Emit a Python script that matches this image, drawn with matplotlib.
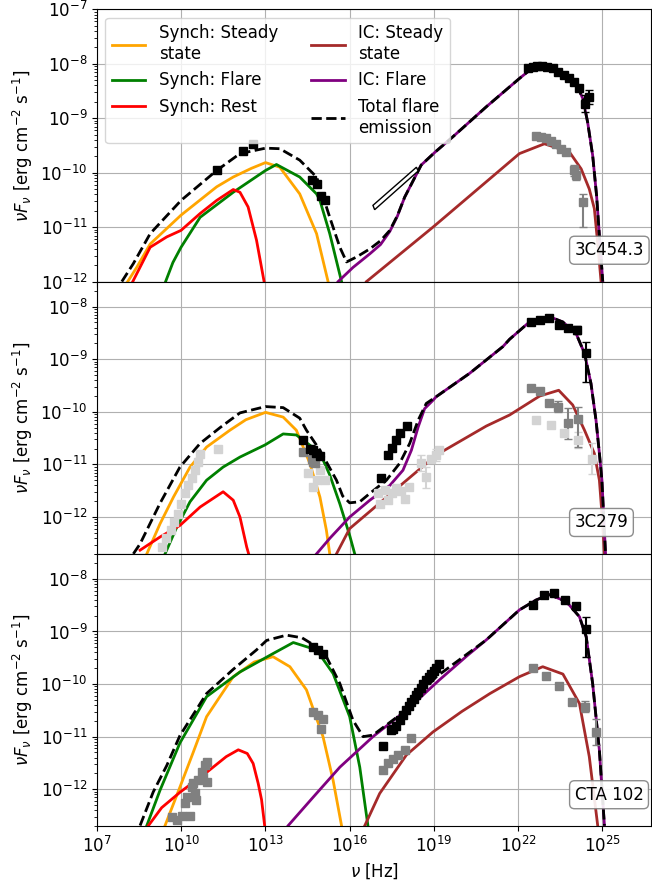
import numpy as np
import matplotlib
matplotlib.use("Agg")
import matplotlib.pyplot as plt
from matplotlib.ticker import NullLocator, NullFormatter

# values, stored as log10(nu / Hz) and log10(nuFnu / erg cm^-2 s^-1)

# ---------------- 3C454.3 ----------------
a_syn_ss_x = [8.09, 8.41, 8.89, 9.99, 11.26, 11.85, 12.5, 13.0, 13.51, 14.22, 14.82, 15.23]
a_syn_ss_y = [-12.0, -11.74, -11.31, -10.78, -10.26, -10.08, -9.92, -9.815, -9.9, -10.39, -11.12, -12.0]
a_syn_fl_x = [9.44, 9.7, 9.99, 10.67, 11.85, 13.0, 13.39, 14.22, 14.82, 14.94, 15.29, 15.71]
a_syn_fl_y = [-12.0, -11.65, -11.37, -10.82, -10.36, -9.96, -9.85, -10.08, -10.39, -10.51, -11.12, -12.0]
a_syn_re_x = [8.27, 8.89, 9.48, 9.99, 10.67, 11.26, 11.85, 12.09, 12.38, 12.68, 12.95]
a_syn_re_y = [-12.0, -11.37, -11.18, -11.06, -10.75, -10.51, -10.31, -10.36, -10.63, -11.24, -12.0]
a_ic_ss_x = [16.6, 18.97, 22.05, 22.94, 23.83, 24.25, 24.54, 24.72, 24.84, 24.96]
a_ic_ss_y = [-12.0, -11.0, -9.65, -9.47, -9.62, -9.93, -10.30, -10.66, -11.3, -12.0]
a_ic_fl_x = [15.59, 16.12, 16.72, 17.1, 17.43, 17.7, 17.96, 18.55, 19.05, 19.68, 20.87, 22.05, 22.41, 23.0,
             23.59, 24.07, 24.31, 24.48, 24.66, 24.80, 24.90, 25.02]
a_ic_fl_y = [-12.0, -11.74, -11.49, -11.32, -11.08, -10.8, -10.45, -9.86, -9.62, -9.34, -8.79, -8.27, -8.12,
             -8.07, -8.18, -8.36, -8.64, -9.07, -9.68, -10.42, -11.15, -12.0]
a_tot_x = [7.88, 8.29, 8.89, 9.99, 11.26, 12.09, 13.0, 13.51, 14.22, 14.82, 14.94, 15.29, 15.65, 15.89,
           16.24, 16.72, 17.1, 17.43, 17.7, 17.96, 18.55, 19.05, 19.68, 20.87, 22.05, 22.41, 23.0, 23.59,
           24.07, 24.31, 24.48, 24.66, 24.80, 24.90, 25.02]
a_tot_y = [-12.0, -11.67, -11.12, -10.51, -9.96, -9.65, -9.55, -9.56, -9.77, -10.08, -10.26, -10.82,
           -11.37, -11.64, -11.55, -11.40, -11.25, -11.06, -10.79, -10.45, -9.86, -9.62, -9.34, -8.79,
           -8.27, -8.12, -8.07, -8.18, -8.36, -8.64, -9.07, -9.68, -10.42, -11.15, -12.0]
a_fl_x = [11.28, 12.21, 12.56, 14.64, 14.84, 14.99, 15.11, 22.34, 22.52, 22.69, 22.87, 23.05, 23.23,
          23.41, 23.65, 23.83, 24.01, 24.16, 24.37, 24.52]
a_fl_y = [-9.95, -9.60, -9.48, -10.14, -10.21, -10.42, -10.51, -8.08, -8.06, -8.05, -8.05, -8.06, -8.08,
          -8.15, -8.21, -8.26, -8.33, -8.45, -8.73, -8.61]
a_fl_elo = [0] * 18 + [0.15, 0.13]
a_fl_ehi = [0] * 18 + [0.15, 0.13]
a_ss_x = [22.65, 22.82, 23.0, 23.18, 23.36, 23.54, 23.72, 23.99, 24.07, 24.33]
a_ss_y = [-9.33, -9.34, -9.37, -9.42, -9.48, -9.56, -9.62, -9.96, -10.04, -10.54]
a_ss_elo = [0, 0, 0, 0, 0, 0, 0, 0.1, 0.1, 0.45]
a_ss_ehi = [0, 0, 0, 0, 0, 0, 0, 0.1, 0.1, 0.15]
bowtie_x = [16.83, 18.38, 18.44, 16.89]
bowtie_y = [-10.60, -9.90, -9.97, -10.68]

# ---------------- 3C279 ----------------
b_syn_ss_x = [8.77, 9.24, 9.72, 10.31, 10.90, 11.73, 12.3, 13.0, 13.63, 14.10, 14.58, 14.94, 15.17, 15.29]
b_syn_ss_y = [-12.70, -12.13, -11.62, -11.05, -10.67, -10.35, -10.15, -10.01, -10.10, -10.35, -10.98,
              -11.62, -12.25, -12.70]
b_syn_fl_x = [9.42, 9.84, 10.31, 10.90, 11.49, 12.09, 12.98, 13.63, 14.10, 14.82, 14.94, 15.29, 15.65,
              16.0, 16.18]
b_syn_fl_y = [-12.70, -12.19, -11.71, -11.30, -11.05, -10.86, -10.63, -10.42, -10.44, -10.73, -10.78,
              -11.2, -11.75, -12.35, -12.70]
b_syn_re_x = [8.53, 9.24, 9.95, 10.67, 11.49, 11.85, 12.09, 12.33, 12.40]
b_syn_re_y = [-12.63, -12.38, -12.16, -11.81, -11.52, -11.68, -12.0, -12.57, -12.70]
b_ic_ss_x = [15.53, 16.0, 17.19, 19.09, 20.87, 21.70, 22.77, 23.45, 23.95, 24.37, 24.72, 24.90, 25.0, 25.08]
b_ic_ss_y = [-12.70, -12.22, -11.68, -10.82, -10.27, -10.06, -9.70, -9.59, -9.87, -10.35, -10.79, -11.30,
             -12.0, -12.70]
b_ic_fl_x = [14.82, 15.3, 16.0, 16.72, 17.43, 17.9, 18.20, 18.44, 18.67, 18.97, 19.09, 20.27, 21.46, 21.70,
             22.41, 23.12, 23.59, 24.07, 24.37, 24.60, 24.78, 24.90, 24.99, 25.12]
b_ic_fl_y = [-12.70, -12.4, -12.0, -11.68, -11.40, -11.11, -10.73, -10.29, -9.94, -9.78, -9.71, -9.27,
             -8.76, -8.62, -8.29, -8.19, -8.29, -8.51, -8.89, -9.46, -10.16, -10.79, -11.30, -12.70]
b_tot_x = [8.29, 8.53, 9.24, 9.95, 10.67, 11.38, 12.09, 13.0, 13.63, 14.22, 14.46, 14.94, 15.53, 15.75,
           16.0, 16.36, 16.72, 17.31, 17.78, 18.14, 18.44, 18.73, 19.09, 20.27, 21.46, 21.70, 22.41, 23.12,
           23.59, 24.07, 24.37, 24.60, 24.78, 24.90, 24.99, 25.12]
b_tot_y = [-12.70, -12.51, -11.74, -11.05, -10.60, -10.30, -10.02, -9.90, -9.92, -10.12, -10.35, -10.73,
           -11.30, -11.6, -11.73, -11.71, -11.55, -11.30, -10.98, -10.60, -10.16, -9.84, -9.71, -9.27,
           -8.76, -8.62, -8.29, -8.19, -8.29, -8.51, -8.89, -9.46, -10.16, -10.79, -11.30, -12.70]
b_fl_x = [14.34, 14.58, 14.70, 14.80, 14.94, 17.13, 17.37, 17.52, 17.64, 17.81, 18.04, 22.47, 22.77,
          23.10, 23.45, 23.77, 24.11, 24.43]
b_fl_y = [-10.54, -10.70, -10.72, -10.78, -10.84, -11.25, -10.82, -10.68, -10.53, -10.41, -10.27, -8.30,
          -8.25, -8.22, -8.35, -8.41, -8.44, -8.89]
b_fl_elo = [0] * 16 + [0.08, 0.54]
b_fl_ehi = [0] * 16 + [0.08, 0.22]
b_ss_x = [14.34, 14.64, 14.70, 14.76, 22.47, 22.77, 23.10, 23.44, 23.77, 24.13]
b_ss_y = [-10.76, -10.89, -10.95, -10.98, -9.55, -9.61, -9.83, -9.90, -10.22, -10.13]
b_ss_elo = [0, 0, 0, 0, 0, 0, 0, 0.1, 0.3, 0.54]
b_ss_ehi = [0, 0, 0, 0, 0, 0, 0, 0.1, 0.3, 0.23]
b_arch_x = [9.30, 9.45, 9.62, 9.75, 9.88, 10.0, 10.12, 10.25, 10.38, 10.5, 10.6, 10.68, 11.32,
            14.52, 14.70, 14.82, 14.94, 15.11,
            17.01, 17.07, 17.25, 17.37, 17.52, 17.66, 17.84, 17.96, 18.11, 18.55, 18.73, 18.91, 19.06, 19.18,
            22.65, 23.16, 23.65, 24.13, 24.64]
b_arch_y = [-12.57, -12.40, -12.25, -12.10, -11.95, -11.75, -11.55, -11.40, -11.25, -11.10, -10.95, -10.80,
            -10.70, -11.17, -11.43, -11.30, -11.11, -11.30,
            -11.55, -11.76, -11.48, -11.68, -11.55, -11.44, -11.50, -11.65, -11.42, -10.98, -11.24, -10.89,
            -10.82, -10.73, -10.16, -10.25, -10.41, -10.54, -10.89]
b_arch_err = [0] * 27 + [0.15, 0.2, 0, 0.12, 0, 0, 0, 0, 0.15, 0.3]

# ---------------- CTA 102 ----------------
c_syn_ss_x = [9.42, 9.95, 10.43, 10.9, 11.85, 12.6, 13.27, 13.87, 14.46, 15.05, 15.41, 15.71]
c_syn_ss_y = [-12.69, -11.96, -11.29, -10.62, -9.86, -9.58, -9.48, -9.67, -10.11, -11.0, -11.83, -12.69]
c_syn_fl_x = [8.77, 9.24, 9.95, 10.9, 12.09, 13.27, 13.99, 14.82, 15.41, 16.0, 16.36, 16.65]
c_syn_fl_y = [-12.69, -12.02, -11.12, -10.24, -9.77, -9.42, -9.21, -9.35, -9.80, -10.62, -11.58, -12.69]
c_syn_re_x = [8.83, 9.3, 9.97, 10.9, 11.6, 12.03, 12.35, 12.56, 12.74, 12.86, 12.97]
c_syn_re_y = [-12.69, -12.35, -12.05, -11.68, -11.38, -11.25, -11.32, -11.51, -11.89, -12.2, -12.69]
c_ic_ss_x = [16.54, 17.07, 18.02, 18.97, 20.0, 21.0, 22.05, 22.88, 23.6, 24.19, 24.54, 24.84]
c_ic_ss_y = [-12.69, -12.08, -11.35, -10.91, -10.52, -10.18, -9.86, -9.67, -9.81, -10.37, -11.38, -12.69]
c_ic_fl_x = [13.81, 14.70, 15.65, 16.83, 18.02, 19.2, 20.21, 20.87, 22.05, 22.65, 23.12, 23.72, 24.19,
             24.43, 24.66, 24.90, 25.08]
c_ic_fl_y = [-12.69, -12.15, -11.58, -11.0, -10.50, -9.92, -9.45, -9.16, -8.59, -8.40, -8.30, -8.43, -8.72,
             -9.10, -9.99, -11.26, -12.69]
c_tot_x = [8.53, 9.0, 9.48, 9.95, 10.9, 11.85, 12.68, 13.04, 13.75, 14.3, 14.82, 15.17, 15.65, 16.12,
           16.48, 16.83, 17.78, 19.09, 20.87, 22.05, 22.65, 23.12, 23.72, 24.19, 24.43, 24.66, 24.90, 25.08]
c_tot_y = [-12.69, -12.05, -11.55, -10.98, -10.18, -9.72, -9.35, -9.17, -9.07, -9.12, -9.29, -9.48, -9.99,
           -10.69, -11.0, -10.97, -10.59, -9.86, -9.16, -8.59, -8.40, -8.30, -8.43, -8.72, -9.10, -9.99,
           -11.26, -12.69]
c_fl_x = [14.70, 14.88, 15.05, 17.19, 17.49, 17.55, 17.66, 17.78, 17.90, 18.02, 18.1, 18.20, 18.3, 18.37,
          18.45, 18.55, 18.63, 18.73, 18.82, 18.91, 19.0, 19.09, 19.20, 22.53, 22.91, 23.30, 23.69, 24.05,
          24.43]
c_fl_y = [-9.29, -9.36, -9.42, -11.18, -10.88, -10.85, -10.79, -10.69, -10.59, -10.50, -10.42, -10.34,
          -10.28, -10.21, -10.15, -10.08, -10.0, -9.92, -9.86, -9.80, -9.75, -9.70, -9.62, -8.50, -8.30,
          -8.26, -8.40, -8.51, -8.96]
c_fl_elo = [0] * 27 + [0.05, 0.52]
c_fl_ehi = [0] * 27 + [0.05, 0.24]
c_ss_x = [9.66, 9.84, 10.01, 10.31, 10.13, 10.19, 10.37, 10.54, 10.49, 10.61, 10.73, 10.84, 10.90, 10.90,
          10.78, 10.43, 14.70, 14.88, 15.05, 14.99, 17.19, 17.37, 17.54, 17.72, 17.96, 18.20, 22.53, 23.0,
          23.45, 23.93, 24.37, 24.78]
c_ss_y = [-12.53, -12.59, -12.50, -12.50, -12.27, -12.15, -11.96, -12.21, -12.08, -11.83, -11.67, -11.54,
          -11.48, -11.86, -11.76, -11.89, -10.53, -10.59, -10.67, -10.86, -11.64, -11.51, -11.42, -11.35,
          -11.26, -11.03, -9.70, -9.85, -10.04, -10.34, -10.43, -10.91]
c_ss_err = [0] * 30 + [0.1, 0.25]

names = ["3C454.3", "3C279", "CTA 102"]


def curve(ax, lx, ly, **kw):
    ax.plot(10 ** np.asarray(lx), 10 ** np.asarray(ly), **kw)


def points(ax, lx, ly, color, elo=None, ehi=None):
    lx = np.asarray(lx)
    ly = np.asarray(ly)
    x = 10 ** lx
    y = 10 ** ly
    if elo is not None:
        elo = np.asarray(elo, dtype=float)
        ehi = np.asarray(ehi if ehi is not None else elo, dtype=float)
        m = (elo > 0) | (ehi > 0)
        lo = y[m] - 10 ** (ly[m] - elo[m])
        hi = 10 ** (ly[m] + ehi[m]) - y[m]
        ax.errorbar(x[m], y[m], yerr=[lo, hi], fmt="none", ecolor=color, capsize=3, lw=1.5, zorder=3)
    ax.plot(x, y, "s", color=color, ms=6, ls="none", zorder=4)


def draw_models(ax, ss, fl, re, ic_ss, ic_fl, tot):
    curve(ax, *ss, color="orange", lw=2, label="Synch: Steady\nstate")
    curve(ax, *fl, color="green", lw=2, label="Synch: Flare")
    curve(ax, *re, color="red", lw=2, label="Synch: Rest")
    curve(ax, *ic_ss, color="brown", lw=2, label="IC: Steady\nstate")
    curve(ax, *ic_fl, color="purple", lw=2, label="IC: Flare")
    curve(ax, *tot, color="black", lw=2, ls="--", label="Total flare\nemission")


fig = plt.figure(figsize=(6.52, 8.88), dpi=100)
axes = fig.subplots(3, 1, sharex=True)
fig.subplots_adjust(left=0.149, right=0.9985, top=0.9895, bottom=0.0698, hspace=0)

ax = axes[0]
draw_models(ax, (a_syn_ss_x, a_syn_ss_y), (a_syn_fl_x, a_syn_fl_y), (a_syn_re_x, a_syn_re_y),
            (a_ic_ss_x, a_ic_ss_y), (a_ic_fl_x, a_ic_fl_y), (a_tot_x, a_tot_y))
ax.fill(10 ** np.asarray(bowtie_x), 10 ** np.asarray(bowtie_y), facecolor="white", edgecolor="black",
        lw=1, zorder=3)
points(ax, a_ss_x, a_ss_y, "gray", a_ss_elo, a_ss_ehi)
points(ax, a_fl_x, a_fl_y, "black", a_fl_elo, a_fl_ehi)
ax.set_ylim(1e-12, 1e-7)
ax.legend(ncol=2, loc="upper left", fontsize=12)

ax = axes[1]
draw_models(ax, (b_syn_ss_x, b_syn_ss_y), (b_syn_fl_x, b_syn_fl_y), (b_syn_re_x, b_syn_re_y),
            (b_ic_ss_x, b_ic_ss_y), (b_ic_fl_x, b_ic_fl_y), (b_tot_x, b_tot_y))
points(ax, b_arch_x, b_arch_y, "lightgray", b_arch_err)
points(ax, b_ss_x, b_ss_y, "gray", b_ss_elo, b_ss_ehi)
points(ax, b_fl_x, b_fl_y, "black", b_fl_elo, b_fl_ehi)
ax.set_ylim(2e-13, 3e-8)

ax = axes[2]
draw_models(ax, (c_syn_ss_x, c_syn_ss_y), (c_syn_fl_x, c_syn_fl_y), (c_syn_re_x, c_syn_re_y),
            (c_ic_ss_x, c_ic_ss_y), (c_ic_fl_x, c_ic_fl_y), (c_tot_x, c_tot_y))
points(ax, c_ss_x, c_ss_y, "gray", c_ss_err)
points(ax, c_fl_x, c_fl_y, "black", c_fl_elo, c_fl_ehi)
ax.set_ylim(2e-13, 3e-8)
ax.set_xlabel(r"$\nu$ [Hz]", fontsize=12)

for ax, name in zip(axes, names):
    ax.set_xscale("log")
    ax.set_yscale("log")
    ax.set_xlim(1e7, 5.5e26)
    ax.set_xticks([10.0 ** k for k in range(7, 26, 3)])
    ax.xaxis.set_minor_locator(NullLocator())
    ax.yaxis.set_minor_formatter(NullFormatter())
    ax.grid(True, which="major")
    ax.tick_params(labelsize=12)
    ax.set_ylabel(r"$\nu F_\nu$ [erg cm$^{-2}$ s$^{-1}$]", fontsize=12)
    ax.text(0.862, 0.115, name, transform=ax.transAxes, fontsize=12, ha="left", va="center",
            bbox=dict(boxstyle="round", facecolor="white", edgecolor="gray", alpha=0.9), zorder=5)

fig.savefig("out.png", dpi=100)
